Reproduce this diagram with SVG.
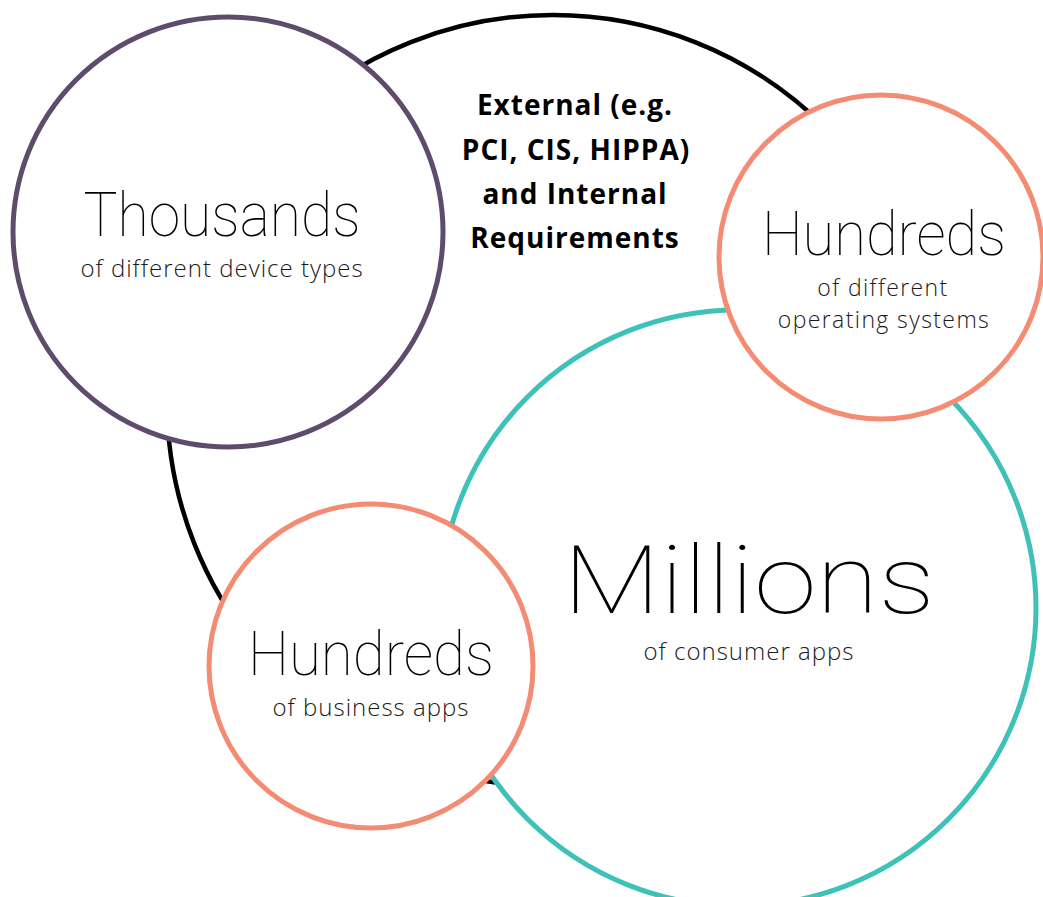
<svg xmlns="http://www.w3.org/2000/svg" width="1043" height="897" viewBox="0 0 1043 897">
<style>
.c{fill:#fff;stroke-width:5}
.big{font-family:Roboto,"Liberation Sans",sans-serif;font-weight:100;fill:#000;text-anchor:middle}
.sub{font-family:"Open Sans","Liberation Sans",sans-serif;font-weight:300;fill:#1a1a1a;text-anchor:middle;font-size:24px;letter-spacing:1px}
.sub2{font-size:23px;letter-spacing:1.4px}
.bold{font-family:"Open Sans","Liberation Sans",sans-serif;font-weight:700;fill:#000;text-anchor:middle;font-size:28px;letter-spacing:1px}
</style>
<rect width="1043" height="897" fill="#fff"/>
<g id="requirements">
<circle cx="553" cy="401" r="386" fill="#fff" stroke="#000" stroke-width="4.5"/>
<text class="bold" x="575" y="115">External (e.g.</text>
<text class="bold" x="576" y="160">PCI, CIS, HIPPA)</text>
<text class="bold" x="575" y="204">and Internal</text>
<text class="bold" x="575" y="248">Requirements</text>
</g>
<g id="millions">
<circle class="c" cx="738" cy="608" r="298" stroke="#3ec1b9"/>
<text class="big" x="749" y="613" font-size="95" textLength="372" lengthAdjust="spacingAndGlyphs">Millions</text>
<text class="sub" x="749" y="660">of consumer apps</text>
</g>
<g id="thousands">
<circle class="c" cx="228" cy="232" r="215" stroke="#5f4b6b"/>
<text class="big" x="222" y="236" font-size="62" textLength="277" lengthAdjust="spacingAndGlyphs">Thousands</text>
<text class="sub" x="222" y="277">of different device types</text>
</g>
<g id="hundreds-os">
<circle class="c" cx="881" cy="257" r="162" stroke="#f48b73"/>
<text class="big" x="884" y="255" font-size="61" textLength="244" lengthAdjust="spacingAndGlyphs">Hundreds</text>
<text class="sub sub2" x="883" y="296">of different</text>
<text class="sub sub2" x="884" y="328">operating systems</text>
</g>
<g id="hundreds-business">
<circle class="c" cx="371" cy="666" r="162" stroke="#f48b73"/>
<text class="big" x="371" y="675" font-size="62" textLength="246" lengthAdjust="spacingAndGlyphs">Hundreds</text>
<text class="sub" x="371" y="716">of business apps</text>
</g>
</svg>
